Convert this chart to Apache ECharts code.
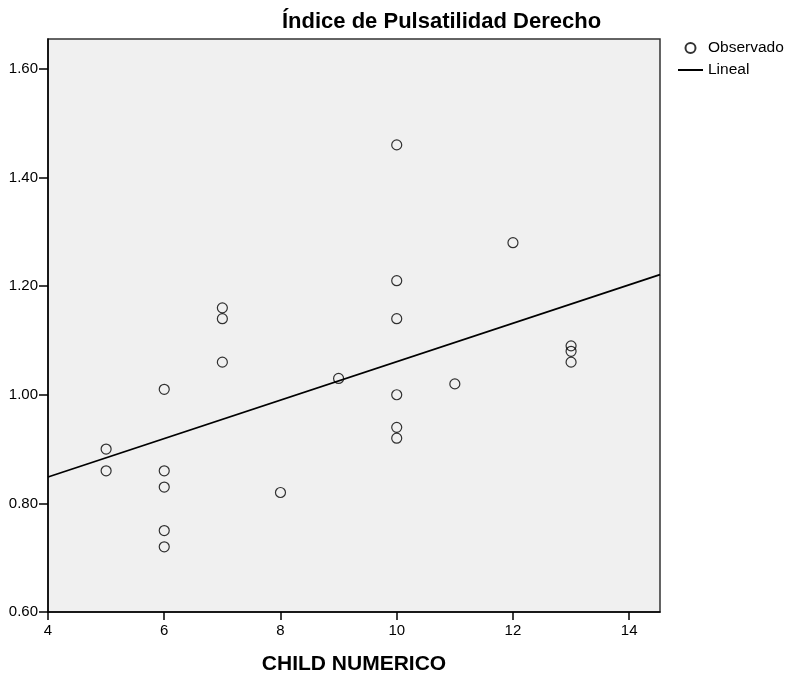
<!DOCTYPE html>
<html>
<head>
<meta charset="utf-8">
<script src="https://cdn.jsdelivr.net/npm/echarts@6/dist/echarts.min.js"></script>
<style>html,body{margin:0;padding:0;background:#fff}#c{width:789px;height:681px}</style>
</head>
<body>
<div id="c"></div>
<script>
var childNumerico = [5, 5, 6, 6, 6, 6, 6, 7, 7, 7, 8, 9, 10, 10, 10, 10, 10, 10, 11, 12, 13, 13, 13];
var indicePulsatilidad = [0.90, 0.86, 1.01, 0.86, 0.83, 0.75, 0.72, 1.16, 1.14, 1.06, 0.82, 1.03, 1.46, 1.21, 1.14, 1.00, 0.94, 0.92, 1.02, 1.28, 1.09, 1.08, 1.06];
var xTicks = [4, 6, 8, 10, 12, 14];
var yTicks = [0.60, 0.80, 1.00, 1.20, 1.40, 1.60];
var xRange = [4, 14.53];
var yRange = [0.6, 1.655];

var observed = childNumerico.map(function (x, i) { return [x, indicePulsatilidad[i]]; });
// least squares fit
var n = childNumerico.length, mx = 0, my = 0;
for (var i = 0; i < n; i++) { mx += childNumerico[i]; my += indicePulsatilidad[i]; }
mx /= n; my /= n;
var sxx = 0, sxy = 0;
for (var i = 0; i < n; i++) { sxx += (childNumerico[i] - mx) * (childNumerico[i] - mx); sxy += (childNumerico[i] - mx) * (indicePulsatilidad[i] - my); }
var slope = sxy / sxx, intercept = my - slope * mx;
var fitLine = xRange.map(function (x) { return [x, intercept + slope * x]; });

var font = 'Liberation Sans, Arial, sans-serif';
var chart = echarts.init(document.getElementById('c'));
chart.setOption({
  animation: false,
  backgroundColor: '#fff',
  title: {
    text: 'Índice de Pulsatilidad Derecho',
    left: 277, top: 6,
    textStyle: { fontFamily: font, fontSize: 22, fontWeight: 'bold', color: '#000' }
  },
  legend: {
    orient: 'vertical', left: 677, top: 40,
    itemWidth: 25, itemHeight: 10, itemGap: 6, padding: 0,
    textStyle: { fontFamily: font, fontSize: 15.5, color: '#000' },
    data: [
      { name: 'Observado' },
      { name: 'Lineal', itemStyle: { opacity: 0 } }
    ]
  },
  grid: {
    left: 48, top: 39, right: 129, bottom: 69,
    show: true, backgroundColor: '#f0f0f0', borderColor: '#333', borderWidth: 1.5
  },
  xAxis: {
    type: 'value', min: xRange[0], max: xRange[1],
    name: 'CHILD NUMERICO', nameLocation: 'middle', nameGap: 42,
    nameTextStyle: { fontFamily: font, fontSize: 21, fontWeight: 'bold', color: '#000' },
    axisLine: { show: true, lineStyle: { color: '#000', width: 1.5 } },
    axisTick: { show: true, length: 8, lineStyle: { color: '#000', width: 1.5 }, customValues: xTicks },
    axisLabel: { fontFamily: font, fontSize: 15, color: '#000', margin: 11, customValues: xTicks },
    splitLine: { show: false }
  },
  yAxis: {
    type: 'value', min: yRange[0], max: yRange[1],
    axisLine: { show: true, lineStyle: { color: '#000', width: 1.5 } },
    axisTick: { show: true, length: 9, lineStyle: { color: '#000', width: 1.5 }, customValues: yTicks },
    axisLabel: { fontFamily: font, fontSize: 15, color: '#000', margin: 10, customValues: yTicks,
      formatter: function (v) { return v.toFixed(2); } },
    splitLine: { show: false }
  },
  series: [
    {
      name: 'Observado', type: 'scatter', data: observed, symbol: 'circle', symbolSize: 10,
      itemStyle: { color: 'rgba(0,0,0,0)', borderColor: '#000', borderWidth: 1.2 },
      z: 3
    },
    {
      name: 'Lineal', type: 'line', data: fitLine, symbol: 'none',
      lineStyle: { color: '#000', width: 1.8 },
      itemStyle: { color: '#000' },
      z: 2
    }
  ]
});
</script>
</body>
</html>
